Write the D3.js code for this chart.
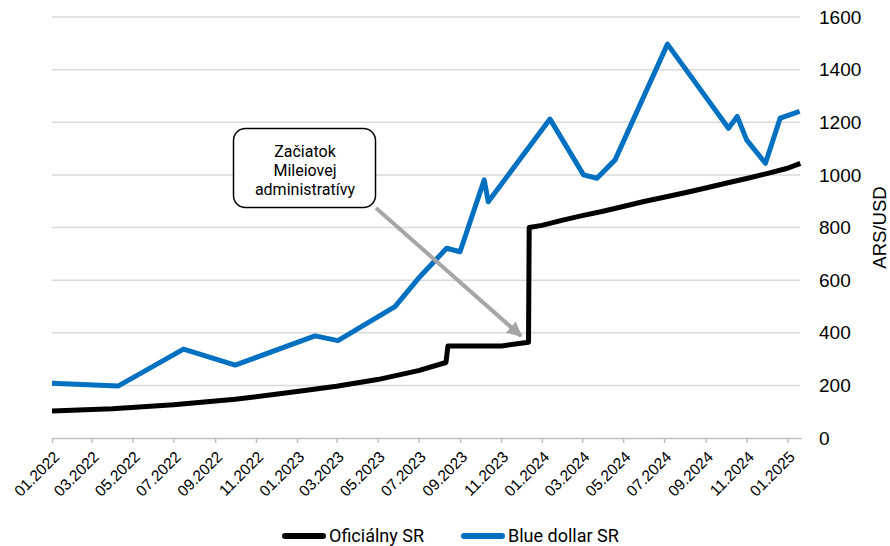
<!DOCTYPE html>
<html>
<head>
<meta charset="utf-8">
<script src="https://cdn.jsdelivr.net/npm/d3@7"></script>
<style>
body{margin:0;background:#fff;}
svg{display:block;}
</style>
</head>
<body>
<svg id="chart" width="890" height="546"></svg>
<script>
(function(){

// DATA
var officialDates = ["2022-01-01","2022-04-01","2022-07-01","2022-10-01","2023-01-01","2023-03-01","2023-05-01","2023-07-01","2023-08-11","2023-08-14","2023-11-02","2023-12-12","2023-12-13","2024-01-01","2024-02-01","2024-03-01","2024-04-01","2024-05-01","2024-06-01","2024-07-01","2024-08-01","2024-09-01","2024-10-01","2024-11-01","2024-12-01","2025-01-01","2025-01-20"];
var officialValues = [103,111,126,147,177,197,222,256,287,350,350,364,800,808,828,845,862,880,899,915,932,950,968,986,1005,1025,1044];

var blueDates = ["2022-01-01","2022-04-10","2022-07-16","2022-10-01","2023-01-28","2023-03-03","2023-05-27","2023-07-01","2023-08-12","2023-09-01","2023-10-07","2023-10-13","2024-01-13","2024-03-03","2024-03-23","2024-04-19","2024-07-06","2024-10-05","2024-10-18","2024-11-01","2024-11-29","2024-12-21","2025-01-19"];
var blueValues = [208,198,338,277,388,370,499,607,721,708,981,898,1212,1000,987,1057,1497,1177,1222,1133,1044,1216,1241];

var xTickLabels = ["01.2022","03.2022","05.2022","07.2022","09.2022","11.2022","01.2023","03.2023","05.2023","07.2023","09.2023","11.2023","01.2024","03.2024","05.2024","07.2024","09.2024","11.2024","01.2025"];
var yTicks = [0,200,400,600,800,1000,1200,1400,1600];
var seriesNames = ["Oficiálny SR","Blue dollar SR"];
var seriesColors = ["#000000","#0070c0"];
var noteLines = ["Začiatok","Mileiovej","administratívy"];

var parse = d3.timeParse("%Y-%m-%d"),
tickParse = d3.timeParse("%m.%Y"),
svg = d3.select("#chart");

var official = officialDates.map(function(d, i){ return {date: parse(d), value: officialValues[i]}; });
var blue = blueDates.map(function(d, i){ return {date: parse(d), value: blueValues[i]}; });

var x = d3.scaleTime()
	.domain([parse("2022-01-01"), parse("2025-01-21")])
	.range([52, 801]);

var y = d3.scaleLinear()
	.domain([0, 1600])
	.range([438, 17]);

//GRID
svg.append("g")
	.selectAll("line")
	.data(yTicks.slice(1))
	.enter().append("line")
		.attr("x1", 52)
		.attr("x2", 800)
		.attr("y1", function(d){ return y(d); })
		.attr("y2", function(d){ return y(d); })
		.attr("stroke", "#d9d9d9")
		.attr("stroke-width", 1.5);

//X AXIS
var xAxis = svg.append("g")
	.attr("transform", "translate(0,438)")
	.call(d3.axisBottom(x)
		.tickValues(xTickLabels.map(function(t){ return tickParse(t); }))
		.tickSize(5)
		.tickSizeOuter(0)
		.tickFormat(function(d, i){ return xTickLabels[i]; }));

xAxis.select(".domain").attr("stroke", "#bfbfbf").attr("stroke-width", 1.5);
xAxis.selectAll(".tick line").attr("stroke", "#bfbfbf").attr("stroke-width", 1.5);
xAxis.selectAll(".tick text")
	.attr("font-family", "Liberation Sans, Arial, sans-serif")
	.attr("font-size", 15.5)
	.attr("fill", "#000")
	.attr("text-anchor", "end")
	.attr("y", 0)
	.attr("dy", "0.35em")
	.attr("transform", "translate(4,16) rotate(-45)");

//Y AXIS (right side, labels only)
svg.append("g")
	.selectAll("text")
	.data(yTicks)
	.enter().append("text")
		.attr("x", 819)
		.attr("y", function(d){ return y(d); })
		.attr("dy", "0.35em")
		.attr("font-family", "Liberation Sans, Arial, sans-serif")
		.attr("font-size", 19)
		.attr("fill", "#000")
		.text(function(d){ return d; });

svg.append("text")
	.attr("transform", "translate(886,227.5) rotate(-90)")
	.attr("text-anchor", "middle")
	.attr("font-family", "Liberation Sans, Arial, sans-serif")
	.attr("font-size", 18.5)
	.attr("fill", "#000")
	.text("ARS/USD");

//LINES
var line = d3.line()
	.x(function(d){ return x(d.date); })
	.y(function(d){ return y(d.value); });

[official, blue].forEach(function(series, i){
	svg.append("path")
		.datum(series)
		.attr("d", line)
		.attr("fill", "none")
		.attr("stroke", seriesColors[i])
		.attr("stroke-width", 5)
		.attr("stroke-linejoin", "round");
});

//ANNOTATION
svg.append("defs").append("marker")
	.attr("id", "arrowHead")
	.attr("viewBox", "0 0 10 10")
	.attr("refX", 9)
	.attr("refY", 5)
	.attr("markerUnits", "userSpaceOnUse")
	.attr("markerWidth", 17)
	.attr("markerHeight", 15)
	.attr("orient", "auto")
	.append("path")
		.attr("d", "M0,0 L10,5 L0,10 Z")
		.attr("fill", "#a6a6a6");

svg.append("line")
	.attr("x1", 376)
	.attr("y1", 208)
	.attr("x2", 521)
	.attr("y2", 336)
	.attr("stroke", "#a6a6a6")
	.attr("stroke-width", 4)
	.attr("marker-end", "url(#arrowHead)");

svg.append("rect")
	.attr("x", 233.5)
	.attr("y", 128.5)
	.attr("width", 142)
	.attr("height", 79)
	.attr("rx", 12)
	.attr("fill", "#fff")
	.attr("stroke", "#000")
	.attr("stroke-width", 1.5);

svg.append("g")
	.selectAll("text")
	.data(noteLines)
	.enter().append("text")
		.attr("x", 305)
		.attr("y", function(d, i){ return 157 + i*19; })
		.attr("text-anchor", "middle")
		.attr("font-family", "Roboto, sans-serif")
		.attr("font-size", 16)
		.attr("fill", "#000")
		.text(function(d){ return d; });

//LEGEND
var legendX = [283, 462];
var legend = svg.append("g")
	.selectAll("g")
	.data(seriesNames)
	.enter().append("g")
		.attr("transform", function(d, i){ return "translate(" + legendX[i] + ",536)"; });

legend.append("line")
	.attr("x1", 2)
	.attr("x2", 40)
	.attr("stroke", function(d, i){ return seriesColors[i]; })
	.attr("stroke-width", 6)
	.attr("stroke-linecap", "round");

legend.append("text")
	.attr("x", 46)
	.attr("y", 6)
	.attr("font-family", "Roboto, sans-serif")
	.attr("font-size", 18)
	.attr("fill", "#000")
	.text(function(d){ return d; });

})()
</script>
</body>
</html>
